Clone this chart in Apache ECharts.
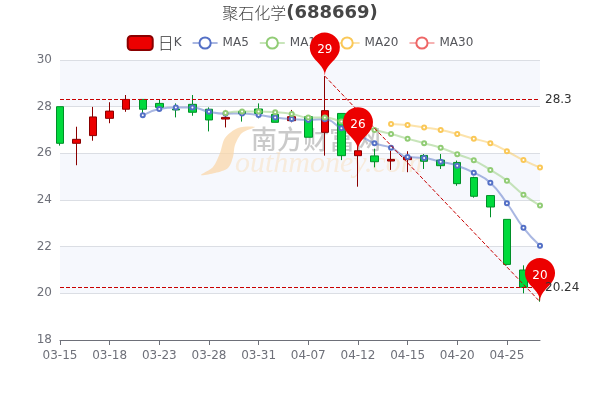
<!DOCTYPE html>
<html>
<head>
<meta charset="utf-8">
<style>html,body{margin:0;padding:0;background:#fff}#main{width:600px;height:400px}</style>
<script src="https://cdn.jsdelivr.net/npm/echarts@6/dist/echarts.min.js"></script>
</head>
<body>
<div id="main"></div>
<script>
const dates = ['03-15','03-16','03-17','03-18','03-21','03-22','03-23','03-24','03-25','03-28',
    '03-29','03-30','03-31','04-01','04-06','04-07','04-08','04-11','04-12','04-13',
    '04-14','04-15','04-18','04-19','04-20','04-21','04-22','04-25','04-26','04-27'];
const opens = [28.0,26.43,26.76,27.5,27.89,28.31,28.14,27.9,28.1,27.89,
    27.47,27.8,27.9,27.67,27.4,27.57,26.9,27.71,25.9,25.89,
    25.67,25.73,25.91,25.71,25.61,24.96,24.19,23.17,21.0,20.8];
const closes = [26.43,26.6,27.56,27.81,28.31,27.89,27.97,27.86,27.76,27.43,
    27.54,27.7,27.71,27.33,27.57,26.69,27.83,25.9,26.11,25.64,
    25.74,25.84,25.66,25.47,24.7,24.16,23.7,21.24,20.26,20.24];
const lows = [26.33,25.49,26.54,27.29,27.78,27.7,27.9,27.54,27.61,26.94,
    27.11,27.36,27.5,27.33,27.33,26.69,25.9,25.71,24.57,25.4,
    25.29,25.19,25.33,25.33,24.61,24.1,23.26,21.2,20.0,19.64];
const highs = [28.0,27.14,27.99,28.19,28.5,28.31,28.3,28.14,28.5,27.97,
    27.86,27.9,28.14,27.8,27.86,27.6,29.31,27.71,27.0,26.2,
    26.11,26.09,25.97,25.97,25.69,25.0,24.19,23.17,21.2,20.9];
const ma5 = ['-','-','-','-','-',27.63,27.9,27.96,27.96,27.78,
    27.7,27.71,27.64,27.54,27.47,27.43,27.46,27.07,26.8,26.43,
    26.24,25.84,25.8,25.64,25.47,25.17,24.74,23.86,22.81,22.04];
const ma10 = ['-','-','-','-','-','-','-','-','-','-',
    27.73,27.79,27.79,27.76,27.69,27.54,27.54,27.36,27.21,27.0,
    26.83,26.63,26.43,26.24,25.96,25.7,25.29,24.83,24.23,23.76];
const ma20 = ['-','-','-','-','-','-','-','-','-','-',
    '-','-','-','-','-','-','-','-','-','-',
    27.26,27.21,27.11,27.0,26.83,26.63,26.43,26.09,25.71,25.39];
const ma30 = [];
const priceLevels = [28.3, 20.24];

const candleData = dates.map((d, i) => [opens[i], closes[i], lows[i], highs[i]]);

function maSeries(name, data, color) {
    return {
        name: name,
        type: 'line',
        data: data,
        smooth: true,
        symbolSize: 4,
        itemStyle: { color: color },
        lineStyle: { color: color, opacity: 0.5 }
    };
}

const myChart = echarts.init(document.getElementById('main'));
myChart.setOption({
    animation: false,
    textStyle: { fontFamily: '"DejaVu Sans"' },
    title: {
        text: '{cn|聚石化学}{code|(688669)}',
        left: 'center',
        top: -1,
        textStyle: {
            rich: {
                cn: { fontSize: 16, color: '#464646', fontFamily: '"Noto Sans CJK SC"', fontWeight: 300 },
                code: { fontSize: 18, color: '#464646', fontFamily: '"DejaVu Sans"', fontWeight: 'bold' }
            }
        }
    },
    legend: {
        top: 30,
        itemGap: 10,
        data: ['日K', 'MA5', 'MA10', 'MA20', 'MA30'],
        formatter: function (name) {
            return name === '日K' ? '{cn|日}K' : name;
        },
        textStyle: {
            rich: {
                cn: { fontSize: 16, color: '#333', fontFamily: '"Noto Sans CJK SC"', fontWeight: 300 }
            }
        }
    },
    grid: { left: 60, right: 60, top: 60, bottom: 60 },
    xAxis: {
        type: 'category',
        data: dates,
        boundaryGap: false,
        axisLine: { lineStyle: { color: '#6E7079' } },
        axisTick: { show: true, length: 5, alignWithLabel: true, interval: 2, lineStyle: { color: '#6E7079' } },
        axisLabel: { interval: 2, margin: 10, color: '#6E7079' },
        splitLine: { show: false }
    },
    yAxis: {
        type: 'value',
        min: 18,
        max: 30,
        interval: 2,
        axisLine: { show: false },
        axisTick: { show: false },
        axisLabel: { color: '#6E7079' },
        splitArea: { show: true, areaStyle: { color: ['#ffffff', '#f6f8fd'] } }
    },
    // watermark of the source site
    graphic: [
        {
            type: 'polygon',
            z: 1,
            shape: {
                points: [[201, 175], [213, 167], [220, 153], [225, 138], [238, 128], [255, 127],
                    [242, 133], [235, 145], [233, 157], [228, 168], [215, 173]],
                smooth: 0.3
            },
            style: { fill: 'rgba(250,215,170,0.75)' }
        },
        {
            type: 'text',
            z: 1,
            left: 251,
            top: 126,
            style: {
                text: '南方财富网',
                font: '500 26px "Noto Sans CJK SC"',
                fill: 'rgba(180,180,180,0.7)'
            }
        },
        {
            type: 'text',
            z: 1,
            left: 235,
            top: 149,
            style: {
                text: 'outhmoney.com',
                font: 'italic 30px "Liberation Serif"',
                fill: 'rgba(250,215,170,0.4)'
            }
        }
    ],
    series: [
        {
            name: '日K',
            type: 'candlestick',
            data: candleData,
            barWidth: 8,
            itemStyle: {
                color: '#ec0000',
                color0: '#00da3c',
                borderColor: '#8A0000',
                borderColor0: '#008F28'
            },
            markPoint: {
                label: { color: '#fff' },
                itemStyle: { color: '#ec0000' },
                data: [
                    { coord: [dates[16], highs[16]], value: Math.round(highs[16]) },
                    { coord: [dates[18], closes[18]], value: Math.round(closes[18]) },
                    { coord: [dates[29], lows[29]], value: Math.round(lows[29]) }
                ]
            },
            markLine: {
                symbol: 'none',
                silent: true,
                lineStyle: { color: '#c80000', type: 'dashed', width: 1 },
                label: { color: '#333' },
                data: [
                    { yAxis: priceLevels[0] },
                    { yAxis: priceLevels[1] },
                    [
                        { coord: [dates[16], highs[16]], label: { show: false } },
                        { coord: [dates[29], lows[29]] }
                    ]
                ]
            }
        },
        maSeries('MA5', ma5, '#5470c6'),
        maSeries('MA10', ma10, '#91cc75'),
        maSeries('MA20', ma20, '#fac858'),
        maSeries('MA30', ma30, '#ee6666')
    ]
});
</script>
</body>
</html>
